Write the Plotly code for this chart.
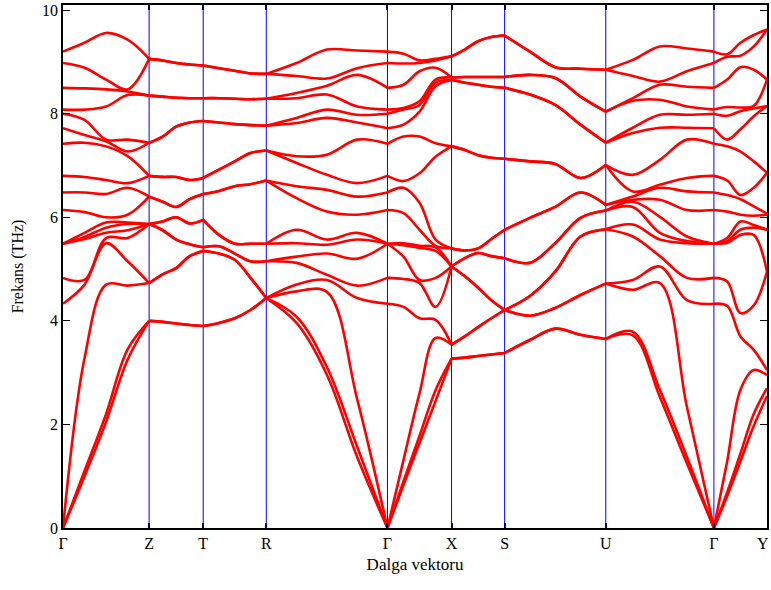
import plotly.graph_objects as go

# High-symmetry points along the path (path-length units) and labels
kpoint_labels = ["Γ", "Z", "T", "R", "Γ", "X", "S", "U", "Γ", "Y"]
kpoint_pos = [0, 86, 140, 203, 324, 388, 441, 542, 650, 703]
sample_fracs = [0, 0.25, 0.5, 0.75, 1.0]
y_ticks = [0, 2, 4, 6, 8, 10]

# Phonon frequencies (THz), 18 branches sorted, read at 5 points per segment
G_pt = [0, 0, 0, 4.33, 4.83, 5.49, 5.49, 5.49, 6.14, 6.48, 6.8, 7.42, 7.72, 8.0, 8.08, 8.5, 8.98, 9.2]
Z_pt = [4.0, 4.0, 4.73, 4.73, 5.87, 5.87, 5.87, 5.87, 6.4, 6.4, 6.8, 6.8, 7.44, 7.44, 8.35, 8.35, 9.06, 9.06]
T_pt = [3.9, 3.9, 5.35, 5.35, 5.42, 5.42, 5.95, 5.95, 6.45, 6.45, 6.76, 6.76, 7.86, 7.86, 8.3, 8.3, 8.93, 8.93]
R_pt = [4.44, 4.44, 4.44, 4.44, 5.15, 5.15, 5.49, 5.49, 6.71, 6.71, 7.29, 7.29, 7.77, 7.77, 8.29, 8.29, 8.77, 8.77]
X_pt = [3.27, 3.27, 3.54, 3.54, 5.05, 5.05, 5.05, 5.05, 5.4, 5.4, 7.37, 7.37, 8.65, 8.65, 8.7, 8.7, 9.11, 9.11]
S_pt = [3.38, 3.38, 4.21, 4.21, 4.21, 4.21, 5.21, 5.21, 5.76, 5.76, 7.13, 7.13, 8.5, 8.5, 8.71, 8.71, 9.51, 9.51]
U_pt = [3.65, 3.65, 4.72, 4.72, 5.77, 5.77, 6.13, 6.13, 6.24, 6.24, 7.01, 7.01, 7.44, 7.44, 8.04, 8.04, 8.85, 8.85]
Y_pt = [2.55, 2.7, 2.95, 3.05, 4.95, 4.95, 5.76, 5.76, 6.05, 6.07, 6.86, 6.86, 8.15, 8.15, 8.66, 8.66, 9.63, 9.63]

seg_GZ = [
    G_pt,
    [1.0, 1.1, 3.28, 4.7, 4.79, 5.58, 5.62, 5.7, 6.1, 6.48, 6.78, 7.44, 7.59, 7.88, 8.08, 8.49, 8.89, 9.37],
    [2.05, 2.2, 4.7, 5.5, 5.6, 5.7, 5.8, 5.9, 6.0, 6.45, 6.72, 7.37, 7.47, 7.5, 8.14, 8.47, 8.66, 9.56],
    [3.25, 3.45, 4.68, 5.15, 5.6, 5.75, 5.87, 5.9, 6.05, 6.57, 6.66, 7.18, 7.27, 7.5, 8.36, 8.43, 8.47, 9.43],
    Z_pt,
]
seg_ZT = [
    Z_pt,
    [3.98, 3.98, 4.9, 4.9, 5.75, 5.75, 5.92, 5.92, 6.3, 6.3, 6.78, 6.78, 7.56, 7.56, 8.33, 8.33, 9.03, 9.03],
    [3.95, 3.95, 5.02, 5.02, 5.57, 5.57, 6.0, 6.0, 6.2, 6.2, 6.78, 6.78, 7.75, 7.75, 8.31, 8.31, 8.98, 8.98],
    [3.92, 3.92, 5.25, 5.25, 5.48, 5.48, 5.88, 5.88, 6.35, 6.35, 6.72, 6.72, 7.83, 7.83, 8.3, 8.3, 8.95, 8.95],
    T_pt,
]
seg_TR = [
    T_pt,
    [3.96, 3.96, 5.3, 5.3, 5.44, 5.44, 5.66, 5.66, 6.51, 6.51, 6.92, 6.92, 7.83, 7.83, 8.3, 8.3, 8.88, 8.88],
    [4.05, 4.05, 5.18, 5.18, 5.3, 5.3, 5.49, 5.49, 6.6, 6.6, 7.08, 7.08, 7.8, 7.8, 8.29, 8.29, 8.83, 8.83],
    [4.21, 4.21, 4.83, 4.83, 5.15, 5.15, 5.49, 5.49, 6.64, 6.64, 7.24, 7.24, 7.78, 7.78, 8.28, 8.28, 8.78, 8.78],
    R_pt,
]
seg_RG = [
    R_pt,
    [3.96, 4.08, 4.57, 4.7, 5.12, 5.24, 5.5, 5.76, 6.37, 6.6, 7.05, 7.18, 7.82, 7.92, 8.3, 8.4, 8.73, 8.98],
    [2.96, 3.11, 4.56, 4.79, 4.89, 5.3, 5.47, 5.57, 6.11, 6.53, 6.82, 7.21, 7.92, 8.08, 8.37, 8.54, 8.68, 9.24],
    [1.37, 1.57, 2.49, 4.44, 4.68, 5.2, 5.57, 5.7, 6.05, 6.4, 6.66, 7.5, 7.83, 7.98, 8.14, 8.75, 8.88, 9.22],
    G_pt,
]
seg_GX = [
    G_pt,
    [0.83, 0.9, 1.31, 4.27, 4.81, 5.24, 5.46, 5.5, 6.08, 6.57, 6.7, 7.56, 7.79, 8.08, 8.11, 8.56, 8.97, 9.16],
    [1.64, 1.78, 2.6, 4.05, 4.73, 4.79, 5.41, 5.45, 5.76, 6.28, 6.85, 7.56, 8.04, 8.17, 8.24, 8.82, 8.98, 9.03],
    [2.45, 2.66, 3.67, 4.02, 4.27, 4.83, 5.35, 5.42, 5.45, 5.57, 7.17, 7.43, 8.53, 8.6, 8.66, 8.89, 9.03, 9.06],
    X_pt,
]
seg_XS = [
    X_pt,
    [3.29, 3.29, 3.7, 3.7, 4.86, 4.86, 5.21, 5.21, 5.36, 5.36, 7.3, 7.3, 8.6, 8.6, 8.71, 8.71, 9.24, 9.24],
    [3.32, 3.32, 3.88, 3.88, 4.64, 4.64, 5.31, 5.31, 5.4, 5.4, 7.2, 7.2, 8.56, 8.56, 8.71, 8.71, 9.4, 9.4],
    [3.35, 3.35, 4.05, 4.05, 4.4, 4.4, 5.25, 5.25, 5.58, 5.58, 7.15, 7.15, 8.52, 8.52, 8.71, 8.71, 9.48, 9.48],
    S_pt,
]
seg_SU = [
    S_pt,
    [3.63, 3.63, 4.1, 4.1, 4.48, 4.48, 5.12, 5.12, 5.99, 5.99, 7.08, 7.08, 8.37, 8.37, 8.75, 8.75, 9.2, 9.2],
    [3.85, 3.85, 4.25, 4.25, 4.95, 4.95, 5.5, 5.5, 6.2, 6.2, 7.03, 7.03, 8.17, 8.17, 8.69, 8.69, 8.9, 8.9],
    [3.73, 3.73, 4.5, 4.5, 5.63, 5.63, 5.99, 5.99, 6.48, 6.48, 6.76, 6.76, 7.79, 7.79, 8.33, 8.33, 8.87, 8.87],
    U_pt,
]
seg_UG = [
    U_pt,
    [3.72, 3.79, 4.6, 4.79, 5.63, 5.86, 6.2, 6.3, 6.34, 6.4, 6.5, 6.82, 7.63, 7.73, 8.25, 8.3, 8.73, 9.04],
    [2.53, 2.67, 4.73, 5.05, 5.25, 5.57, 5.7, 6.01, 6.34, 6.57, 6.63, 7.11, 7.73, 7.98, 8.27, 8.56, 8.62, 9.3],
    [1.25, 1.37, 2.34, 4.4, 4.83, 5.5, 5.54, 5.63, 6.14, 6.5, 6.76, 7.5, 7.73, 7.98, 8.14, 8.52, 8.82, 9.26],
    G_pt,
]
seg_GY = [
    G_pt,
    [0.62, 0.69, 1.29, 4.29, 4.76, 5.51, 5.54, 5.6, 6.11, 6.43, 6.71, 7.37, 7.5, 7.96, 8.13, 8.66, 9.1, 9.15],
    [1.29, 1.44, 2.67, 3.7, 4.15, 5.66, 5.76, 5.92, 6.05, 6.35, 6.43, 7.27, 7.7, 8.05, 8.12, 8.9, 9.12, 9.37],
    [1.97, 2.2, 3.05, 3.44, 4.3, 5.66, 5.8, 5.85, 6.03, 6.21, 6.57, 7.08, 7.95, 8.1, 8.15, 8.85, 9.3, 9.52],
    Y_pt,
]
segments = [seg_GZ, seg_ZT, seg_TR, seg_RG, seg_GX, seg_XS, seg_SU, seg_UG, seg_GY]

SERIF = "Liberation Serif, DejaVu Serif, serif"

fig = go.Figure()
for i, seg in enumerate(segments):
    k0, k1 = kpoint_pos[i], kpoint_pos[i + 1]
    xs = [k0 + f * (k1 - k0) for f in sample_fracs]
    nb = len(seg[0])
    for b in range(nb):
        fig.add_trace(go.Scatter(
            x=xs, y=[col[b] for col in seg], mode="lines",
            line=dict(color="#ff0000", width=2.6, shape="spline", smoothing=1.0),
            showlegend=False, hoverinfo="skip"))

# Blue vertical lines at interior high-symmetry points
shapes = [dict(type="line", xref="x", yref="paper", x0=k, x1=k, y0=0, y1=1,
               line=dict(color="#0000ff", width=1), layer="below")
          for k in kpoint_pos[1:-1]]

# Last label (at the right frame) drawn as an annotation so it stays inside the page
tick_text = kpoint_labels[:-1] + [""]
annotations = [dict(x=kpoint_pos[-1], y=0, xref="x", yref="paper",
                    text=kpoint_labels[-1], showarrow=False,
                    xanchor="right", yanchor="top", xshift=4, yshift=-5,
                    font=dict(family=SERIF, size=16, color="black"))]

fig.update_layout(
    width=771, height=590,
    margin=dict(l=63, r=4, t=5, b=62),
    paper_bgcolor="white", plot_bgcolor="white",
    font=dict(family=SERIF, size=15, color="black"),
    shapes=shapes,
    annotations=annotations,
    xaxis=dict(
        range=[kpoint_pos[0], kpoint_pos[-1]],
        tickmode="array", tickvals=kpoint_pos, ticktext=tick_text,
        showgrid=False,
        ticks="inside", ticklen=5, tickcolor="#000066", tickwidth=1.5,
        showline=True, linecolor="black", linewidth=1.6, mirror="ticks",
        zeroline=False, automargin=False,
        tickfont=dict(family=SERIF, size=16),
        title=dict(text="Dalga vektoru", font=dict(family=SERIF, size=17), standoff=7),
    ),
    yaxis=dict(
        range=[0, 10.1],
        tickmode="array", tickvals=y_ticks,
        showgrid=False, zeroline=False, automargin=False,
        ticks="inside", ticklen=7, tickcolor="black", tickwidth=1.2,
        showline=True, linecolor="black", linewidth=1.6, mirror="ticks",
        tickfont=dict(family=SERIF, size=16),
        title=dict(text="Frekans (THz)", font=dict(family=SERIF, size=16), standoff=14),
    ),
)

fig.write_html("out.html", config={"displayModeBar": False},
               post_script="document.body.style.margin='0px';")
